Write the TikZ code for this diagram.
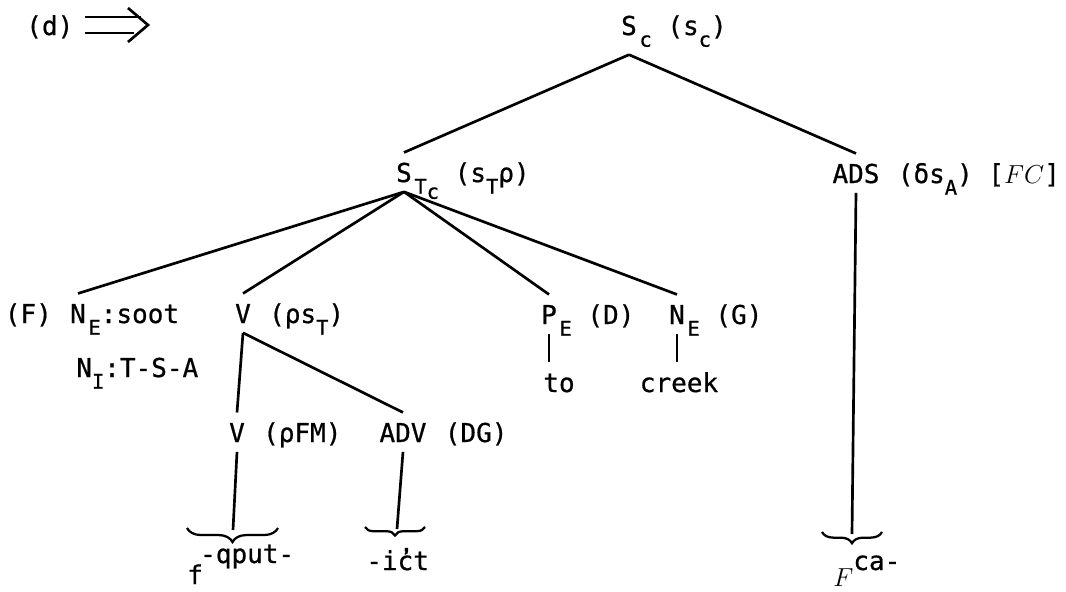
\documentclass[tikz,border=0pt]{standalone}
\usepackage{fix-cm}
\usepackage{fontspec}
\setmainfont{DejaVu Sans Mono}[FakeBold=0.7]
\usetikzlibrary{positioning,decorations.pathreplacing}
% lowered (subscript) letters as on the typewriter
\newcommand{\lo}[1]{\raisebox{-0.45em}{\fontsize{14.5}{14}\selectfont #1}}

\begin{document}
\begin{tikzpicture}[x=0.025cm, y=-0.025cm, line width=1.9pt,
    font=\fontsize{18.5}{22}\selectfont,
    head/.style={inner sep=0pt, text height=17pt, text depth=3pt, outer ysep=4pt, anchor=base},
    note/.style={inner sep=0pt, anchor=base west},
    brace/.style={decorate, line width=1.6pt, decoration={brace, mirror, amplitude=#1}}]
        \useasboundingbox (0,0) rectangle (1066,592);

        % step label
        \node[note] (tag) at (25,35) {(d)};
        \draw (85,17) -- (141,17);
        \draw (85,33) -- (134,33);
        \draw[line join=miter] (128,8) -- (148,25) -- (128,42);

        % top level
        \node[head, text depth=10pt] (Sc) at (629,35) {S};
        \node[note] at (Sc.base east) {\lo{c} (s\lo{c})};

        \node[head] (STc) at (404,182) {S};
        \node[note] at (STc.base east) {\lo{T\raisebox{-.25em}{c}} (s\lo{T}ρ)};
        \node[head] (ADS) at (856,183) {ADS};
        \node[note] at (ADS.base east) {\phantom{x}(δs\lo{A})\phantom{x}[$FC$]};

        \draw (Sc.south) -- (STc.north);
        \draw (Sc.south) -- (ADS.north);

        % constituents of the clause
        \node[head] (NEs) at (78,323) {N};
        \node[note] at (NEs.base east) {\lo{E}:soot};
        \node[note, anchor=base east] at (NEs.base west) {(F)\phantom{x}};
        \node[note] (NI) at (75,377) {N\lo{I}:T-S-A};

        \node[head] (Vt) at (243,323) {V};
        \node[note] at (Vt.base east) {\phantom{x}(ρs\lo{T})};
        \node[head] (PE) at (549,324) {P};
        \node[note] at (PE.base east) {\lo{E} (D)};
        \node[head] (NEg) at (677,324) {N};
        \node[note] at (NEg.base east) {\lo{E} (G)};

        \foreach \k in {NEs, Vt, PE, NEg}
          \draw (STc.south) -- (\k.north);

        \node[head] (to) at (559,392) {to};
        \node[head] (creek) at (679,392) {creek};
        \draw (PE.south) -- (PE.south |- to.north);
        \draw (NEg.south) -- (NEg.south |- creek.north);

        % verb complex
        \node[head] (Vf) at (237,442) {V};
        \node[note] at (Vf.base east) {\phantom{x}(ρFM)};
        \node[head] (ADV) at (403,442) {ADV};
        \node[note] at (ADV.base east) {\phantom{x}(DG)};
        \draw (Vt.south) -- (Vf.north);
        \draw (Vt.south) -- (ADV.north);

        % morphemes
        \coordinate (qput-l) at (187,528);
        \coordinate (qput-r) at (278,528);
        \coordinate (qput-m) at (233,530);
        \coordinate (ict-l) at (365,527);
        \coordinate (ict-r) at (425,527);
        \coordinate (ict-m) at (397,529);
        \coordinate (ca-l) at (822,532);
        \coordinate (ca-r) at (882,532);
        \coordinate (ca-m) at (852,534);
        \draw[brace=10pt] (qput-l) -- (qput-r);
        \draw[brace=6pt] (ict-l) -- (ict-r);
        \draw[brace=8pt] (ca-l) -- (ca-r);

        \node[note] (qput) at (186,563) {\raisebox{-15pt}{f}\kern-2pt-qput-};
        \node[note] (ict) at (365,570) {-ic̓t};
        \node[note] (ca) at (832,570) {\raisebox{-12pt}{$F$}ca-};

        \draw (Vf.south) -- (qput-m);
        \draw (ADV.south) -- (ict-m);
        \draw (ADS.south) -- (ca-m);
      \end{tikzpicture}
\end{document}
